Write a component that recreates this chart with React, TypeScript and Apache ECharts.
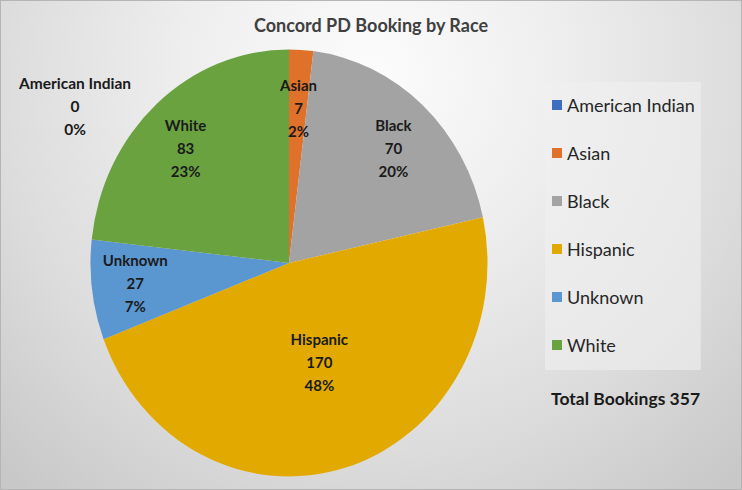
import React, { useEffect, useRef } from "react";
import * as echarts from "echarts";

const categories = ["American Indian", "Asian", "Black", "Hispanic", "Unknown", "White"];
const values = [0, 7, 70, 170, 27, 83];
const colors = ["#3F6EC0", "#E0712A", "#A3A3A3", "#E2AA00", "#5A96D0", "#6AA240"];
const titleText = "Concord PD Booking by Race";

const total = values.reduce((a, b) => a + b, 0);
// largest-remainder percentages (sum to 100, like the source chart)
const percents = (() => {
  const raw = values.map((v) => (v / total) * 100);
  const fl = raw.map((r) => Math.floor(r));
  let left = 100 - fl.reduce((a, b) => a + b, 0);
  const order = raw.map((r, i) => ({ i, rem: r - Math.floor(r) })).sort((a, b) => b.rem - a.rem);
  for (let k = 0; k < order.length && left > 0; k++, left--) fl[order[k].i] += 1;
  return fl;
})();
const labelFor = (i: number) => `${categories[i]}\n${values[i]}\n${percents[i]}%`;

const CX = 289;
const CY = 263;
const R = 206;
const SX = 198.5 / R;
const SY = 213.5 / R;

export default function App() {
  const pieRef = useRef<HTMLDivElement>(null);
  const topRef = useRef<HTMLDivElement>(null);
  useEffect(() => {
    if (!pieRef.current || !topRef.current) return;
    const pie = echarts.init(pieRef.current, undefined, { renderer: "svg" });
    const top = echarts.init(topRef.current, undefined, { renderer: "svg" });
    const font = "Lato";
    const labelStyle = {
      fontFamily: font,
      fontWeight: "bold" as const,
      fontSize: 15,
      lineHeight: 23,
      color: "#1a1a1a",
    };
    pie.setOption({
      animation: false,
      series: [
        {
          type: "pie",
          center: [CX, CY],
          radius: [0, R],
          startAngle: 90,
          clockwise: true,
          data: categories.map((name, i) => ({ name, value: values[i], itemStyle: { color: colors[i] } })),
          label: { show: false },
          labelLine: { show: false },
          itemStyle: { borderWidth: 0 },
          silent: true,
        },
      ],
    });
    const hidden = "rgba(0,0,0,0)";
    top.setOption({
      animation: false,
      title: {
        text: titleText,
        left: "center",
        top: 11,
        textStyle: { fontFamily: font, fontWeight: "bold", fontSize: 18, color: "#404040" },
      },
      legend: {
        orient: "vertical",
        left: 545,
        top: 82,
        data: categories.map((name, i) => ({ name, itemStyle: { color: colors[i], opacity: 1 } })),
        icon: "rect",
        itemWidth: 10,
        itemHeight: 10,
        itemGap: 28,
        padding: [13, 6, 15, 7],
        backgroundColor: "rgba(240,240,240,0.6)",
        textStyle: { fontFamily: font, fontSize: 18, color: "#262626", lineHeight: 20 },
        selectedMode: false,
      },
      graphic: [
        {
          type: "text",
          x: 75,
          y: 106,
          style: {
            text: labelFor(0),
            align: "center",
            verticalAlign: "middle",
            font: `bold 15.5px ${font}`,
            lineHeight: 23,
            fill: "#1a1a1a",
          },
        },
        {
          type: "text",
          x: 551,
          y: 398,
          style: {
            text: `Total Bookings ${total}`,
            verticalAlign: "middle",
            font: `bold 17.5px ${font}`,
            fill: "#1a1a1a",
          },
        },
      ],
      series: [
        {
          type: "pie",
          center: [CX, CY - 3],
          radius: [0, R],
          startAngle: 90,
          clockwise: true,
          data: categories.map((name, i) => ({
            name,
            value: values[i],
            label: { show: name === "Hispanic" },
          })),
          itemStyle: { color: hidden, borderWidth: 0 },
          label: {
            position: "inside",
            formatter: (p: any) => labelFor(p.dataIndex),
            ...labelStyle,
          },
          labelLine: { show: false },
          silent: true,
        },
        {
          type: "pie",
          center: [CX, CY],
          radius: [0, 304],
          startAngle: 90,
          clockwise: true,
          data: categories.map((name, i) => ({
            name,
            value: values[i],
            label: { show: name !== "American Indian" && name !== "Hispanic" },
          })),
          itemStyle: { color: hidden, borderWidth: 0 },
          label: {
            position: "inside",
            formatter: (p: any) => labelFor(p.dataIndex),
            ...labelStyle,
          },
          labelLine: { show: false },
          silent: true,
        },
      ],
    });
    return () => {
      pie.dispose();
      top.dispose();
    };
  }, []);
  return (
    <div
      style={{
        position: "absolute",
        left: 0,
        top: 0,
        width: 742,
        height: 490,
        boxSizing: "border-box",
        border: "1px solid #b5b5b5",
        background:
          "radial-gradient(circle 540px at 371px 73px, #fcfcfc 0%, #eeeeee 35%, #dcdcdc 70%, #c8c8c8 100%)",
        overflow: "hidden",
      }}
    >
      <div
        ref={pieRef}
        style={{
          position: "absolute",
          left: -1,
          top: -1,
          width: 742,
          height: 490,
          transformOrigin: `${CX}px ${CY}px`,
          transform: `scale(${SX}, ${SY})`,
        }}
      />
      <div ref={topRef} style={{ position: "absolute", left: -1, top: -1, width: 742, height: 490 }} />
    </div>
  );
}
